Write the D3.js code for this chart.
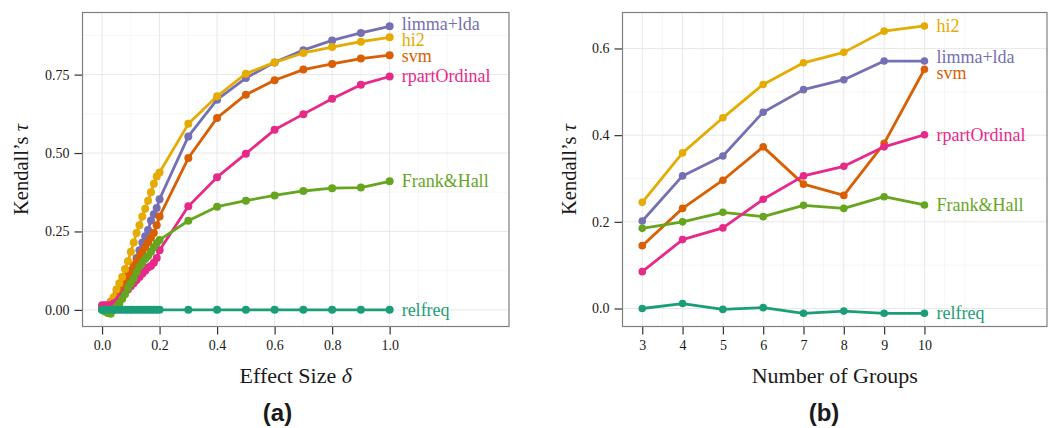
<!DOCTYPE html>
<html>
<head>
<meta charset="utf-8">
<script src="https://cdn.jsdelivr.net/npm/d3@7"></script>
<style>
  body { margin: 0; background: #fff; }
  svg { display: block; }
  text { font-family: "Liberation Serif", serif; fill: #1a1a1a; }
</style>
</head>
<body>
<div id="chart"></div>
<script>
// ---- data: panel (a), Kendall's tau against effect size
const effectSize = [0, 0.01, 0.02, 0.03, 0.04, 0.05, 0.06, 0.07, 0.08, 0.09, 0.10,
    0.11, 0.12, 0.13, 0.14, 0.15, 0.16, 0.17, 0.18, 0.19, 0.20,
    0.3, 0.4, 0.5, 0.6, 0.7, 0.8, 0.9, 1.0];
const effLimma = [0, 0, 0, 0.003, 0.005, 0.015, 0.03, 0.05, 0.07, 0.095, 0.12,
    0.14, 0.165, 0.19, 0.215, 0.235, 0.255, 0.285, 0.305, 0.325, 0.353,
    0.553, 0.670, 0.739, 0.789, 0.828, 0.859, 0.883, 0.904];
const effHi2 = [0.005, 0.008, 0.012, 0.022, 0.04, 0.065, 0.085, 0.105, 0.13, 0.155, 0.185,
    0.215, 0.245, 0.27, 0.298, 0.322, 0.348, 0.375, 0.402, 0.425, 0.438,
    0.593, 0.681, 0.753, 0.789, 0.819, 0.838, 0.855, 0.869];
const effSvm = [0.01, 0.012, 0.015, 0.025, 0.035, 0.05, 0.065, 0.08, 0.095, 0.11, 0.125,
    0.14, 0.155, 0.17, 0.185, 0.2, 0.215, 0.23, 0.245, 0.27, 0.298,
    0.484, 0.612, 0.686, 0.732, 0.766, 0.784, 0.801, 0.812];
const effRpart = [0.015, 0.015, 0.015, 0.015, 0.02, 0.025, 0.035, 0.045, 0.055, 0.065, 0.075,
    0.085, 0.095, 0.105, 0.115, 0.125, 0.135, 0.14, 0.15, 0.165, 0.19,
    0.33, 0.423, 0.498, 0.574, 0.624, 0.673, 0.718, 0.744];
const effFrank = [0, -0.005, -0.01, -0.012, 0, 0.01, 0.02, 0.035, 0.05, 0.07, 0.085,
    0.1, 0.12, 0.138, 0.15, 0.162, 0.172, 0.185, 0.2, 0.212, 0.223,
    0.284, 0.329, 0.348, 0.365, 0.379, 0.388, 0.39, 0.41];
const effRelfreq = [0, 0, 0, 0, 0, 0, 0, 0, 0, 0, 0,
    0, 0, 0, 0, 0, 0, 0, 0, 0, 0,
    0, 0, 0, 0, 0, 0, 0, 0];
const effTicks = [0, 0.2, 0.4, 0.6, 0.8, 1.0];
const effTauTicks = [0, 0.25, 0.5, 0.75];

// ---- data: panel (b), Kendall's tau against number of groups
const groups = [3, 4, 5, 6, 7, 8, 9, 10];
const grpHi2 = [0.245, 0.359, 0.44, 0.517, 0.567, 0.591, 0.64, 0.652];
const grpLimma = [0.202, 0.306, 0.352, 0.453, 0.505, 0.528, 0.571, 0.571];
const grpSvm = [0.145, 0.231, 0.296, 0.373, 0.287, 0.261, 0.381, 0.552];
const grpRpart = [0.085, 0.159, 0.186, 0.252, 0.306, 0.328, 0.373, 0.401];
const grpFrank = [0.185, 0.2, 0.222, 0.212, 0.238, 0.231, 0.258, 0.239];
const grpRelfreq = [0, 0.0115, -0.002, 0.002, -0.011, -0.006, -0.011, -0.011];
const grpTicks = [3, 4, 5, 6, 7, 8, 9, 10];
const grpTauTicks = [0, 0.2, 0.4, 0.6];

// Dark2 colours per method
const colors = {
    'relfreq': '#1b9e77',
    'svm': '#d95f02',
    'limma+lda': '#7570b3',
    'rpartOrdinal': '#e7298a',
    'Frank&Hall': '#66a61e',
    'hi2': '#e6ab02'
};

const width = 1048, height = 428;
const svg = d3.select('#chart').append('svg')
    .attr('width', width)
    .attr('height', height);

// Push labels apart so they do not overlap
function dodge(labels, minGap) {
    labels.sort((a, b) => a.y - b.y);
    for (let it = 0; it < 50; it++) {
        let moved = false;
        for (let i = 1; i < labels.length; i++) {
            const gap = labels[i].y - labels[i - 1].y;
            if (gap < minGap - 0.01) {
                const push = (minGap - gap) / 2;
                labels[i].y += push;
                labels[i - 1].y -= push;
                moved = true;
            }
        }
        if (!moved) break;
    }
    return labels;
}

function drawPanel(p) {
    const g = svg.append('g');
    const x = d3.scaleLinear().domain(p.xDomain).range([p.left, p.right]);
    const y = d3.scaleLinear().domain(p.yDomain).range([p.bottom, p.top]);

    // grid
    g.selectAll('.minor-x').data(p.xMinor).join('line')
        .attr('x1', d => x(d)).attr('x2', d => x(d))
        .attr('y1', p.top).attr('y2', p.bottom)
        .attr('stroke', '#f4f4f4').attr('stroke-width', 0.8);
    g.selectAll('.minor-y').data(p.yMinor).join('line')
        .attr('y1', d => y(d)).attr('y2', d => y(d))
        .attr('x1', p.left).attr('x2', p.right)
        .attr('stroke', '#f4f4f4').attr('stroke-width', 0.8);
    g.selectAll('.major-x').data(p.xTicks).join('line')
        .attr('x1', d => x(d)).attr('x2', d => x(d))
        .attr('y1', p.top).attr('y2', p.bottom)
        .attr('stroke', '#e8e8e8').attr('stroke-width', 1);
    g.selectAll('.major-y').data(p.yTicks).join('line')
        .attr('y1', d => y(d)).attr('y2', d => y(d))
        .attr('x1', p.left).attr('x2', p.right)
        .attr('stroke', '#e8e8e8').attr('stroke-width', 1);

    // axes
    const xAxis = d3.axisBottom(x).tickValues(p.xTicks).tickFormat(p.xFormat)
        .tickSize(8).tickPadding(6);
    const yAxis = d3.axisLeft(y).tickValues(p.yTicks).tickFormat(p.yFormat)
        .tickSize(8).tickPadding(5);
    const gx = g.append('g').attr('transform', `translate(0,${p.bottom})`).call(xAxis);
    const gy = g.append('g').attr('transform', `translate(${p.left},0)`).call(yAxis);
    [gx, gy].forEach(a => {
        a.select('.domain').remove();
        a.selectAll('line').attr('stroke', '#333').attr('stroke-width', 1.2);
        a.selectAll('text').style('font-family', '"Liberation Serif", serif')
            .style('font-size', '14px').attr('fill', '#333');
    });

    // panel border
    g.append('rect')
        .attr('x', p.left).attr('y', p.top)
        .attr('width', p.right - p.left).attr('height', p.bottom - p.top)
        .attr('fill', 'none').attr('stroke', '#7f7f7f').attr('stroke-width', 1.2);

    // series
    const line = d3.line().x(d => x(d[0])).y(d => y(d[1]));
    p.series.forEach(s => {
        const pts = p.xs.map((v, i) => [v, s.values[i]]);
        g.append('path')
            .datum(pts)
            .attr('d', line)
            .attr('fill', 'none')
            .attr('stroke', colors[s.name])
            .attr('stroke-width', 2.8)
            .attr('stroke-linejoin', 'round');
        g.selectAll(null).data(pts).join('circle')
            .attr('cx', d => x(d[0]))
            .attr('cy', d => y(d[1]))
            .attr('r', p.r)
            .attr('fill', colors[s.name]);
    });

    // end labels
    const labels = dodge(p.series.map(s => ({
        name: s.name,
        x: x(p.xs[p.xs.length - 1]) + 12,
        y: y(s.values[s.values.length - 1])
    })), 16);
    g.selectAll('.end-label').data(labels).join('text')
        .attr('x', d => d.x)
        .attr('y', d => d.y)
        .attr('dy', '0.33em')
        .text(d => d.name)
        .style('fill', d => colors[d.name])
        .style('font-size', '18px');

    // axis titles
    g.append('text')
        .attr('x', (p.left + p.right) / 2)
        .attr('y', p.bottom + 56)
        .attr('text-anchor', 'middle')
        .style('font-size', '22px')
        .call(t => {
            t.append('tspan').text(p.xTitle);
            if (p.xSymbol) t.append('tspan').style('font-style', 'italic').text(' ' + p.xSymbol);
        });
    g.append('text')
        .attr('transform', `translate(${p.left - p.yTitleGap},${(p.top + p.bottom) / 2}) rotate(-90)`)
        .attr('text-anchor', 'middle')
        .style('font-size', '20.5px')
        .call(t => {
            t.append('tspan').text('Kendall\u2019s ');
            t.append('tspan').style('font-style', 'italic').text('\u03c4');
        });

    // panel tag
    g.append('text')
        .attr('x', p.tagX)
        .attr('y', 421)
        .attr('text-anchor', 'middle')
        .style('font-family', '"Liberation Sans", sans-serif')
        .style('font-weight', 'bold')
        .style('font-size', '24px')
        .text(p.tag);
}

drawPanel({
    left: 82.5, right: 509, top: 12.5, bottom: 326.5,
    xDomain: [-0.068, 1.415], yDomain: [-0.053, 0.948],
    xs: effectSize,
    xTicks: effTicks, yTicks: effTauTicks,
    xMinor: [0.1, 0.3, 0.5, 0.7, 0.9, 1.1, 1.2],
    yMinor: [0.125, 0.375, 0.625, 0.875],
    xFormat: d3.format('.1f'), yFormat: d3.format('.2f'),
    r: 4,
    series: [
        { name: 'limma+lda', values: effLimma },
        { name: 'svm', values: effSvm },
        { name: 'hi2', values: effHi2 },
        { name: 'rpartOrdinal', values: effRpart },
        { name: 'Frank&Hall', values: effFrank },
        { name: 'relfreq', values: effRelfreq }
    ],
    xTitle: 'Effect Size', xSymbol: '\u03b4',
    yTitleGap: 54.5,
    tag: '(a)', tagX: 277.5
});

drawPanel({
    left: 622.5, right: 1047, top: 12.5, bottom: 326.5,
    xDomain: [2.51, 13.04], yDomain: [-0.0415, 0.683],
    xs: groups,
    xTicks: grpTicks, yTicks: grpTauTicks,
    xMinor: [3.5, 4.5, 5.5, 6.5, 7.5, 8.5, 9.5, 10.5, 11],
    yMinor: [0.1, 0.3, 0.5],
    xFormat: d3.format('d'), yFormat: d3.format('.1f'),
    r: 3.8,
    series: [
        { name: 'hi2', values: grpHi2 },
        { name: 'limma+lda', values: grpLimma },
        { name: 'svm', values: grpSvm },
        { name: 'Frank&Hall', values: grpFrank },
        { name: 'rpartOrdinal', values: grpRpart },
        { name: 'relfreq', values: grpRelfreq }
    ],
    xTitle: 'Number of Groups', xSymbol: null,
    yTitleGap: 46.5,
    tag: '(b)', tagX: 824
});
</script>
</body>
</html>
